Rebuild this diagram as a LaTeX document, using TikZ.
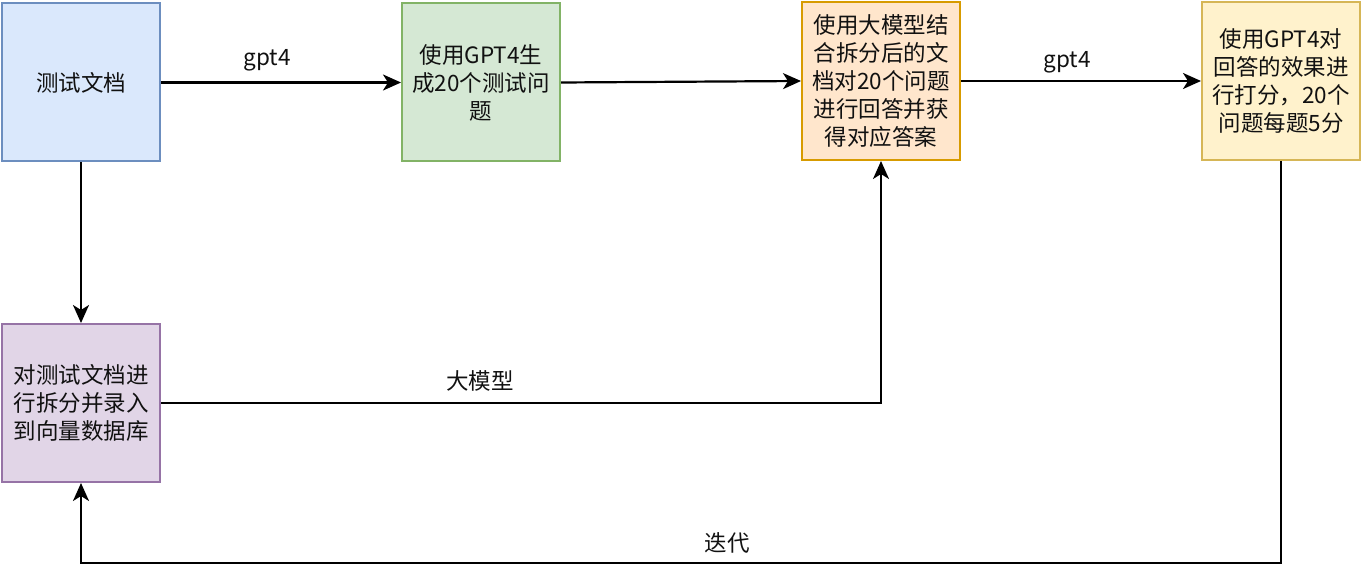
\documentclass[tikz,border=0pt]{standalone}
\usepackage{fontspec}
\setmainfont{Noto Sans CJK SC}
\usetikzlibrary{arrows.meta}
\definecolor{bfill}{HTML}{DAE8FC}\definecolor{bline}{HTML}{6C8EBF}
\definecolor{gfill}{HTML}{D5E8D4}\definecolor{gline}{HTML}{82B366}
\definecolor{ofill}{HTML}{FFE6CC}\definecolor{oline}{HTML}{D79B00}
\definecolor{yfill}{HTML}{FFF2CC}\definecolor{yline}{HTML}{D6B656}
\definecolor{pfill}{HTML}{E1D5E7}\definecolor{pline}{HTML}{9673A6}
\definecolor{txt}{HTML}{111111}
\tikzset{
  box/.style={draw, line width=2pt, minimum width=158pt, minimum height=158pt, inner sep=0pt,
    align=center, text=txt, font=\fontsize{22.5}{28}\selectfont},
  conn/.style={line width=2.2pt, -{Stealth[length=18pt,width=16pt,inset=5pt]}},
  lbl/.style={text=txt, font=\fontsize{22.5}{28}\selectfont, inner sep=0pt}
}
\begin{document}
\begin{tikzpicture}[x=1pt,y=-1pt]
\useasboundingbox (0,0) rectangle (1362,580);
\node[box, fill=bfill, draw=bline] (A) at (81,82.5) {测试文档};
\node[box, fill=gfill, draw=gline] (B) at (481,82.5) {使用GPT4生\\成20个测试问\\题};
\node[box, fill=ofill, draw=oline] (C) at (881,81) {使用大模型结\\合拆分后的文\\档对20个问题\\进行回答并获\\得对应答案};
\node[box, fill=yfill, draw=yline] (D) at (1281,81) {使用GPT4对\\回答的效果进\\行打分，20个\\问题每题5分};
\node[box, fill=pfill, draw=pline] (E) at (81,403) {对测试文档进\\行拆分并录入\\到向量数据库};
\coordinate (c1) at (881,403);
\coordinate (d1) at (1281,563);
\coordinate (e1) at (81,563);
\draw[conn] (A.east) -- (B.west);
\draw[conn] (B.east) -- (C.west);
\draw[conn] (C.east) -- (D.west);
\draw[conn] (A.south) -- (E.north);
\draw[conn] (E.east) -- (c1) -- (C.south);
\draw[conn] (D.south) -- (d1) -- (e1) -- (E.south);
\node[lbl] (l1) at (267,60) {gpt4};
\node[lbl] (l2) at (1067,62) {gpt4};
\node[lbl] (l3) at (480,381) {大模型};
\node[lbl] (l4) at (727,543) {迭代};
\end{tikzpicture}
\end{document}
